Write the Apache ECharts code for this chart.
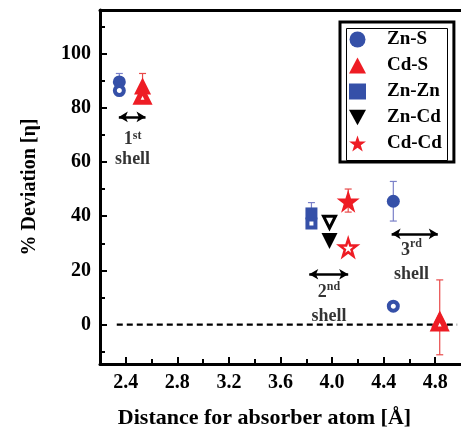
<!DOCTYPE html>
<html><head><meta charset="utf-8">
<script src="https://cdn.jsdelivr.net/npm/echarts@6/dist/echarts.min.js"></script>
<style>html,body{margin:0;padding:0;background:#fff}#c{width:461px;height:434px}</style>
</head><body><div id="c"></div>
<script>
// ---- data ----
const znS_filled = [[2.35, 89.5], [4.475, 45.5]];
const znS_open   = [[2.35, 86.3], [4.475, 6.8]];
const cdS_filled = [[2.53, 88.0], [4.835, 2.1]];
const cdS_open   = [[2.53, 84.2], [4.835, 0.6]];
const znZn_filled = [[3.84, 41.0]];
const znZn_open   = [[3.84, 37.3]];
const znCd_filled = [[3.98, 30.8]];
const znCd_open   = [[3.98, 37.8]];
const cdCd_filled = [[4.125, 45.5]];
const cdCd_open   = [[4.125, 28.4]];
// error bars: [x, low, high]
const znS_err  = [[2.35, 85.0, 92.6], [4.475, 38.2, 52.8]];
const cdS_err  = [[2.53, 83.0, 92.6], [4.835, -11.1, 16.5]];
const znZn_err = [[3.84, 37.0, 45.0]];
const cdCd_err = [[4.125, 41.5, 50.0]];
// shell annotations: [x, y, ordinal, suffix, lineHeight]
const shellLabels = [[2.453, 64.6, '1', 'st', 20], [3.976, 7.4, '2', 'nd', 24], [4.616, 23.0, '3', 'rd', 24]];
// double arrows: [x1, x2, y]
const shellArrows = [[2.346, 2.553, 76.6], [3.823, 4.125, 18.6], [4.462, 4.82, 33.5]];
const zeroLine = [[2.33, 0], [4.97, 0]];
const xMajor = [2.4, 2.8, 3.2, 3.6, 4.0, 4.4, 4.8];
const xMinor = [2.2, 2.6, 3.0, 3.4, 3.8, 4.2, 4.6];
const yMajor = [0, 20, 40, 60, 80, 100];
const yMinor = [-10, 10, 30, 50, 70, 90, 110];

const BLUE = '#3550a8', RED = '#ee1c24', BLACK = '#000';
const FONT = '"Liberation Serif", "Times New Roman", serif';
const STAR = 'path://M50,0 L61.8,35.1 L98.9,35.1 L69,57 L80.2,92.4 L50,70.7 L19.8,92.4 L31,57 L1.1,35.1 L38.2,35.1 Z';
const DOWN = 'path://M0,0 L10,0 L5,9 Z';
const chart = echarts.init(document.getElementById('c'), null, {renderer: 'canvas'});

function errSeries(name, data, color) {
  return {
    type: 'custom', name: name + ' err', data: data, z: 1,
    renderItem: function (params, api) {
      const x = api.value(0);
      const lo = api.coord([x, api.value(1)]);
      const hi = api.coord([x, api.value(2)]);
      const w = 3.5;
      const st = {stroke: color, lineWidth: 1.2};
      return {type: 'group', children: [
        {type: 'line', shape: {x1: lo[0], y1: lo[1], x2: hi[0], y2: hi[1]}, style: st},
        {type: 'line', shape: {x1: lo[0]-w, y1: lo[1], x2: lo[0]+w, y2: lo[1]}, style: st},
        {type: 'line', shape: {x1: hi[0]-w, y1: hi[1], x2: hi[0]+w, y2: hi[1]}, style: st}
      ]};
    },
    encode: {x: 0, y: [1, 2]}
  };
}
function filled(name, data, symbol, size, color) {
  return {type: 'scatter', name: name, data: data, symbol: symbol, symbolSize: size, z: 3,
    itemStyle: {color: color, opacity: 1}};
}
function hollow(name, data, symbol, size, color, bw) {
  return {type: 'scatter', name: name + ' (open)', data: data, symbol: symbol, symbolSize: size, z: 4,
    itemStyle: {color: '#fff', borderColor: color, borderWidth: bw, opacity: 1}};
}

const option = {
  animation: false,
  backgroundColor: '#fff',
  grid: {left: 100, top: 10, width: 365, height: 355, show: false},
  xAxis: [{
    type: 'value', min: 2.2, max: 5.0,
    axisLine: {show: true, onZero: false, lineStyle: {color: BLACK, width: 3}},
    axisTick: {show: true, inside: true, length: 7, lineStyle: {color: BLACK, width: 2}, customValues: xMajor},
    axisLabel: {customValues: xMajor, color: BLACK, fontFamily: FONT, fontWeight: 'bold', fontSize: 20, margin: 9,
      formatter: v => v.toFixed(1)},
    splitLine: {show: false},
    name: 'Distance for absorber atom [Å]', nameLocation: 'middle', nameGap: 43,
    nameTextStyle: {color: BLACK, fontFamily: FONT, fontWeight: 'bold', fontSize: 22, padding: [0, 32, 0, 0]}
  }, {
    type: 'value', min: 2.2, max: 5.0, position: 'bottom',
    axisLine: {show: false, onZero: false},
    axisTick: {show: true, inside: true, length: 5, lineStyle: {color: BLACK, width: 2}, customValues: xMinor},
    axisLabel: {show: false}, splitLine: {show: false}
  }, {
    type: 'value', min: 2.2, max: 5.0, position: 'top',
    axisLine: {show: true, onZero: false, lineStyle: {color: BLACK, width: 3}},
    axisTick: {show: false}, axisLabel: {show: false}, splitLine: {show: false}
  }],
  yAxis: [{
    type: 'value', min: -14.5, max: 116,
    axisLine: {show: true, onZero: false, lineStyle: {color: BLACK, width: 3}},
    axisTick: {show: true, inside: true, length: 7, lineStyle: {color: BLACK, width: 2}, customValues: yMajor},
    axisLabel: {customValues: yMajor, color: BLACK, fontFamily: FONT, fontWeight: 'bold', fontSize: 20, margin: 9},
    splitLine: {show: false},
    name: '% Deviation [η]', nameLocation: 'middle', nameGap: 60, nameRotate: 90,
    nameTextStyle: {color: BLACK, fontFamily: FONT, fontWeight: 'bold', fontSize: 20}
  }, {
    type: 'value', min: -14.5, max: 116, position: 'left',
    axisLine: {show: false, onZero: false},
    axisTick: {show: true, inside: true, length: 5, lineStyle: {color: BLACK, width: 2}, customValues: yMinor},
    axisLabel: {show: false}, splitLine: {show: false}
  }],
  legend: {
    left: 340, top: 22, orient: 'vertical',
    data: [
      {name: 'Zn-S', icon: 'circle'},
      {name: 'Cd-S', icon: 'triangle'},
      {name: 'Zn-Zn', icon: 'rect'},
      {name: 'Zn-Cd', icon: DOWN},
      {name: 'Cd-Cd', icon: STAR}
    ],
    itemWidth: 17, itemHeight: 16, itemGap: 7,
    padding: [8, 12, 9, 9],
    borderColor: BLACK, borderWidth: 3,
    textStyle: {color: BLACK, fontFamily: FONT, fontWeight: 'bold', fontSize: 19, padding: [0, 0, 0, 16]}
  },
  series: [
    errSeries('Zn-S', znS_err, '#7a80c8'),
    errSeries('Cd-S', cdS_err, '#e84a4a'),
    errSeries('Zn-Zn', znZn_err, '#7a80c8'),
    errSeries('Cd-Cd', cdCd_err, '#e84a4a'),
    filled('Zn-S', znS_filled, 'circle', 13, BLUE),
    hollow('Zn-S', znS_open, 'circle', 9, BLUE, 4),
    filled('Cd-S', cdS_filled, 'triangle', 17, RED),
    hollow('Cd-S', cdS_open, 'triangle', 12, RED, 5),
    filled('Zn-Zn', znZn_filled, 'rect', 12, BLUE),
    hollow('Zn-Zn', znZn_open, 'rect', 8, BLUE, 4),
    filled('Zn-Cd', znCd_filled, DOWN, 16, BLACK),
    hollow('Zn-Cd', znCd_open, DOWN, 12, BLACK, 3),
    filled('Cd-Cd', cdCd_filled, STAR, 23, RED),
    hollow('Cd-Cd', cdCd_open, STAR, 17, RED, 2.5),
    {
      type: 'scatter', name: 'annot', z: 5, symbolSize: 0, silent: true,
      data: shellLabels.map(d => ({value: [d[0], d[1]], ord: d[2], suf: d[3], lh: d[4]})),
      label: {
        show: true, position: 'inside',
        formatter: p => '{n' + p.data.lh + '|' + p.data.ord + '}{s' + p.data.lh + '|' + p.data.suf + '}\n{n' + p.data.lh + '|shell}',
        rich: {
          n20: {fontFamily: FONT, fontWeight: 'bold', fontSize: 18, color: BLACK, lineHeight: 20},
          s20: {fontFamily: FONT, fontWeight: 'bold', fontSize: 12, color: BLACK, lineHeight: 20, verticalAlign: 'top'},
          n24: {fontFamily: FONT, fontWeight: 'bold', fontSize: 18, color: BLACK, lineHeight: 24},
          s24: {fontFamily: FONT, fontWeight: 'bold', fontSize: 12, color: BLACK, lineHeight: 24, verticalAlign: 'top'}
        }
      },
      markLine: {
        silent: true, symbol: ['arrow', 'arrow'], symbolSize: [8, 9], label: {show: false},
        lineStyle: {color: BLACK, width: 2.5, type: 'solid'},
        data: shellArrows.map(a => [{coord: [a[0], a[2]]}, {coord: [a[1], a[2]]}])
      }
    },
    {
      type: 'line', name: 'zero', data: zeroLine, silent: true, symbol: 'none', z: 2,
      lineStyle: {color: BLACK, width: 2.2, type: [6, 4]}
    }
  ],
  graphic: [{
    type: 'rect', left: 344, top: 26, shape: {width: 101, height: 132},
    style: {fill: 'none', stroke: BLACK, lineWidth: 1}, z: 100
  }]
};
chart.setOption(option);
</script>
</body></html>
